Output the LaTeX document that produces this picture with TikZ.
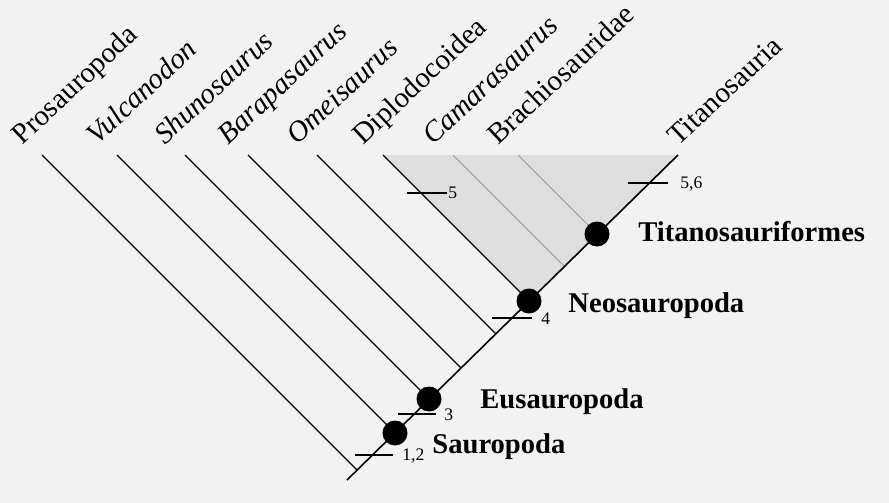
\documentclass[tikz,border=0pt]{standalone}
\usepackage{fontspec}
\setmainfont{Liberation Serif}
\usepackage{tikz}
\usetikzlibrary{calc}
\definecolor{PageGray}{RGB}{242,242,241}
\definecolor{CladeShade}{RGB}{222,222,222}
\newcommand\taxfont{\fontsize{14.5}{17}\selectfont}
\newcommand\cladefont{\fontsize{14.3}{17}\selectfont\bfseries}
\newcommand\charfont{\fontsize{8.8}{10}\selectfont}
\tikzset{
  taxon/.style={rotate=43, anchor=base west, inner sep=0pt, font=\taxfont},
  clade/.style={anchor=base west, inner sep=0pt, font=\cladefont},
  charnum/.style={anchor=west, inner sep=0pt, font=\charfont},
  branch/.style={draw=black, line width=0.6pt},
  spine/.style={draw=black, line width=0.8pt},
  greybranch/.style={draw=gray!80, line width=0.45pt},
  cladedot/.style={circle, fill=black, minimum size=12.5pt, inner sep=0pt},
  chartick/.style={draw=black, line width=0.7pt}
}

\begin{document}
\begin{tikzpicture}[x=0.5pt, y=-0.5pt]
  \fill[PageGray] (0,0) rectangle (889,503);
  \useasboundingbox (0,0) rectangle (889,503);
  % leaf tips
  \coordinate (tProso) at (42,155);
  \coordinate (tVulcan) at (117,155);
  \coordinate (tShuno) at (185,155);
  \coordinate (tBarapa) at (248,155);
  \coordinate (tOmei) at (317,155);
  \coordinate (tDiplo) at (383,155);
  \coordinate (tCamara) at (453,155);
  \coordinate (tBrachio) at (518,155);
  \coordinate (tTitano) at (678,155);
  % spine and junctions
  \coordinate (root) at (347,480);
  \coordinate (jProso) at (357,470);
  \coordinate (jVulcan) at (395,433);
  \coordinate (jShuno) at (429,399);
  \coordinate (jBarapa) at (461,368);
  \coordinate (jOmei) at (496,334);
  \coordinate (jDiplo) at (529,301);
  \coordinate (jCamara) at (564,266);
  \coordinate (jBrachio) at (597,234);

  \fill[CladeShade] (tDiplo) -- (tTitano) -- (jDiplo) -- cycle;

  \draw[spine] (root) -- (tTitano);
  \draw[branch] (tProso) -- (jProso);
  \draw[branch] (tVulcan) -- (jVulcan);
  \draw[branch] (tShuno) -- (jShuno);
  \draw[branch] (tBarapa) -- (jBarapa);
  \draw[branch] (tOmei) -- (jOmei);
  \draw[branch] (tDiplo) -- (jDiplo);
  \draw[greybranch] (tCamara) -- (jCamara);
  \draw[greybranch] (tBrachio) -- (jBrachio);

  % taxon names
  \node[taxon] (nProso) at ($(tProso)+(-20,-9)$) {Prosauropoda};
  \node[taxon] (nVulcan) at ($(tVulcan)+(-20,-9)$) {\itshape Vulcanodon};
  \node[taxon] (nShuno) at ($(tShuno)+(-20,-9)$) {\itshape Shunosaurus};
  \node[taxon] (nBarapa) at ($(tBarapa)+(-20,-9)$) {\itshape Barapasaurus};
  \node[taxon] (nOmei) at ($(tOmei)+(-20,-9)$) {\itshape Omeisaurus};
  \node[taxon] (nDiplo) at ($(tDiplo)+(-20,-9)$) {Diplodocoidea};
  \node[taxon] (nCamara) at ($(tCamara)+(-20,-9)$) {\itshape Camarasaurus};
  \node[taxon] (nBrachio) at ($(tBrachio)+(-20,-9)$) {Brachiosauridae};
  \node[taxon] (nTitano) at ($(tTitano)+(0,-8)$) {Titanosauria};

  % clade nodes
  \node[cladedot] (dSauro) at (jVulcan) {};
  \node[cladedot] (dEusauro) at (jShuno) {};
  \node[cladedot] (dNeosauro) at (jDiplo) {};
  \node[cladedot] (dTitanif) at (jBrachio) {};
  \node[clade] (cSauro) at (432,453) {Sauropoda};
  \node[clade] (cEusauro) at (480,408) {Eusauropoda};
  \node[clade] (cNeosauro) at (568,312) {Neosauropoda};
  \node[clade] (cTitanif) at (638,241) {Titanosauriformes};

  % characters
  \coordinate (k12) at (374,455);
  \coordinate (k3) at (417,414);
  \coordinate (k4) at (512,318);
  \coordinate (k5) at (427,193);
  \coordinate (k56) at (648,183);
  \draw[chartick] ($(k12)+(-19,0)$) -- ($(k12)+(19,0)$);
  \draw[chartick] ($(k3)+(-19,0)$) -- ($(k3)+(19,0)$);
  \draw[chartick] ($(k4)+(-20,0)$) -- ($(k4)+(20,0)$);
  \draw[chartick] ($(k5)+(-20,0)$) -- ($(k5)+(20,0)$);
  \draw[chartick] ($(k56)+(-20,0)$) -- ($(k56)+(20,0)$);
  \node[charnum] (l12) at (402,456) {1,2};
  \node[charnum] (l3) at (444,415) {3};
  \node[charnum] (l4) at (541,319) {4};
  \node[charnum] (l5) at (448,193) {5};
  \node[charnum] (l56) at (680,184) {5,6};
\end{tikzpicture}
\end{document}
